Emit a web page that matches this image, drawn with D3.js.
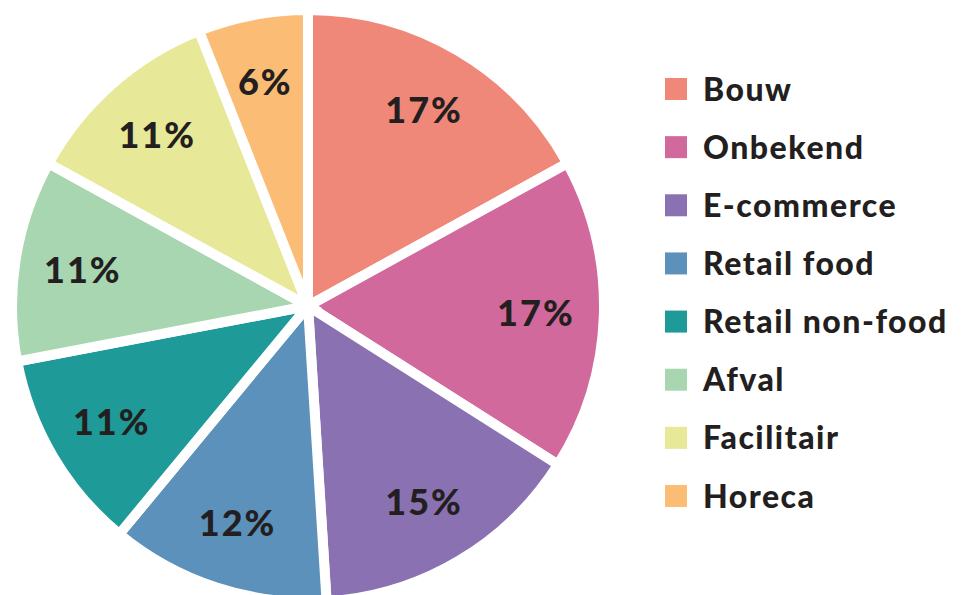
<!DOCTYPE html>
<html>
<head>
<meta charset="utf-8">
<script src="https://cdn.jsdelivr.net/npm/d3@7"></script>
<style>
  html, body { margin: 0; padding: 0; background: #fff; }
  svg text { font-family: Lato, "Open Sans", sans-serif; font-weight: 900; fill: #231f20; }
</style>
</head>
<body>
<svg id="chart" width="978" height="595"></svg>
<script>
// data ------------------
const categories = ['Bouw', 'Onbekend', 'E-commerce', 'Retail food', 'Retail non-food', 'Afval', 'Facilitair', 'Horeca']
const shares = [17, 17, 15, 12, 11, 11, 11, 6]
const colours = ['#f0887a', '#d2699c', '#8a72b2', '#5b91ba', '#1e9a98', '#a8d6b0', '#e7e898', '#fbbd76']

const rows = categories.map((name, i) => ({name, value: shares[i], colour: colours[i]}))

// config
const cx = 308, cy = 306
const radius = 296
const labelRadius = 228

const svg = d3.select('#chart')

const pie = d3.pie()
    .value(d => d.value)
    .sort(null)

const arc = d3.arc()
    .innerRadius(0)
    .outerRadius(radius)

const labelArc = d3.arc()
    .innerRadius(labelRadius)
    .outerRadius(labelRadius)

const g = svg.append('g')
    .attr('transform', 'translate(' + cx + ',' + cy + ')')

const slices = pie(rows)

g.selectAll('path.slice')
    .data(slices)
    .join('path')
    .attr('class', 'slice')
    .attr('d', arc)
    .attr('fill', d => d.data.colour)
    .attr('stroke', '#fff')
    .attr('stroke-width', 10)
    .attr('stroke-linejoin', 'miter')

g.selectAll('text.pct')
    .data(slices)
    .join('text')
    .attr('class', 'pct')
    .attr('transform', d => 'translate(' + labelArc.centroid(d) + ')')
    .attr('text-anchor', 'middle')
    .attr('dy', '0.36em')
    .style('font-size', '36px')
    .style('letter-spacing', '2px')
    .text(d => d.data.value + '%')

// legend
const legendY = d3.scalePoint()
    .domain(categories)
    .range([89, 496])

const legend = svg.append('g')
    .selectAll('g.item')
    .data(rows)
    .join('g')
    .attr('class', 'item')
    .attr('transform', d => 'translate(665,' + legendY(d.name) + ')')

legend.append('rect')
    .attr('x', 0)
    .attr('y', -11)
    .attr('width', 22)
    .attr('height', 22)
    .attr('fill', d => d.colour)

legend.append('text')
    .attr('x', 38)
    .attr('dy', '0.36em')
    .style('font-size', '32px')
    .style('letter-spacing', '1.5px')
    .text(d => d.name)
</script>
</body>
</html>
